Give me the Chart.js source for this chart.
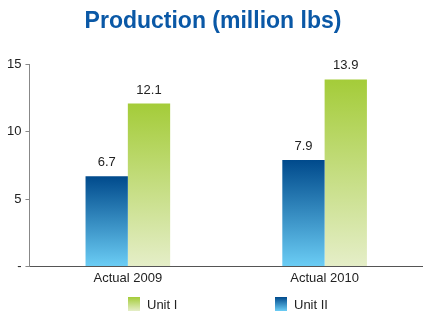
<!DOCTYPE html>
<html>
<head>
<meta charset="utf-8">
<script src="https://cdn.jsdelivr.net/npm/chart.js@4"></script>
<style>
  html, body { margin: 0; padding: 0; background: #fff; }
  #wrap { width: 423px; height: 314px; }
</style>
</head>
<body>
<div id="wrap"><canvas id="prodChart" width="423" height="314"></canvas></div>
<script>
const categories = ['Actual 2009', 'Actual 2010'];
const unitOne = [12.1, 13.9];
const unitTwo = [6.7, 7.9];
const yTicks = [0, 5, 10, 15];

const FONT = "'Liberation Sans', Arial, sans-serif";

// colours for the gradient fills, top then bottom
const blueStops = ['#004a8c', '#6bcdf5'];
const greenStops = ['#a4cc39', '#e5eec8'];

function barFill(stops) {
    return function (context) {
        const chart = context.chart;
        if (!chart.chartArea || context.parsed === undefined) return stops[0];
        const y = chart.scales.y;
        const top = y.getPixelForValue(context.parsed.y);
        const bottom = y.getPixelForValue(0);
        const g = chart.ctx.createLinearGradient(0, top, 0, bottom);
        g.addColorStop(0, stops[0]);
        g.addColorStop(1, stops[1]);
        return g;
    };
}

// value labels on top of the bars
const valueLabels = {
    id: 'valueLabels',
    afterDatasetsDraw(chart) {
        const ctx = chart.ctx;
        ctx.save();
        ctx.font = '13px ' + FONT;
        ctx.fillStyle = '#222';
        ctx.textAlign = 'center';
        ctx.textBaseline = 'bottom';
        chart.data.datasets.forEach((ds, i) => {
            chart.getDatasetMeta(i).data.forEach((bar, j) => {
                ctx.fillText(ds.data[j].toFixed(1), bar.x, bar.y - 7);
            });
        });
        ctx.restore();
    }
};

// legend at the bottom, wide gaps like the original
const wideLegend = {
    id: 'wideLegend',
    afterDraw(chart) {
        const ctx = chart.ctx;
        const items = [
            { text: 'Unit I', stops: greenStops, x: 128 },
            { text: 'Unit II', stops: blueStops, x: 275 }
        ];
        const top = 297, h = 14, w = 12;
        ctx.save();
        ctx.font = '13px ' + FONT;
        ctx.fillStyle = '#222';
        ctx.textBaseline = 'middle';
        items.forEach(it => {
            const g = ctx.createLinearGradient(0, top, 0, top + h);
            g.addColorStop(0, it.stops[0]);
            g.addColorStop(1, it.stops[1]);
            ctx.fillStyle = g;
            ctx.fillRect(it.x, top, w, h);
            ctx.fillStyle = '#222';
            ctx.fillText(it.text, it.x + w + 7, top + h / 2 + 1);
        });
        ctx.restore();
    }
};

const ctx = document.getElementById('prodChart').getContext('2d');
const prodChart = new Chart(ctx, {
    type: 'bar',
    data: {
        labels: categories,
        datasets: [{
            label: 'Unit II',
            data: unitTwo,
            backgroundColor: barFill(blueStops)
        }, {
            label: 'Unit I',
            data: unitOne,
            backgroundColor: barFill(greenStops)
        }]
    },
    options: {
        responsive: false,
        animation: false,
        categoryPercentage: 0.43,
        barPercentage: 1,
        layout: { padding: { top: 4, right: 0, bottom: 24, left: 3 } },
        plugins: {
            title: {
                display: true,
                text: 'Production (million lbs)',
                color: '#0a58a6',
                font: { family: FONT, size: 23, weight: 'bold' },
                padding: { top: 4, bottom: 29 }
            },
            legend: { display: false },
            tooltip: { enabled: false }
        },
        scales: {
            x: {
                grid: { display: false, drawTicks: false },
                border: { color: '#555', width: 1 },
                ticks: { color: '#222', font: { family: FONT, size: 13 }, padding: 4 }
            },
            y: {
                min: 0,
                max: 15,
                afterBuildTicks(axis) { axis.ticks = yTicks.map(v => ({ value: v })); },
                grid: { drawOnChartArea: false, tickLength: 4, color: '#888' },
                border: { color: '#888', width: 1 },
                ticks: {
                    color: '#222',
                    font: { family: FONT, size: 13 },
                    padding: 4,
                    callback: v => v === 0 ? '-' : v
                }
            }
        }
    },
    plugins: [valueLabels, wideLegend]
});
</script>
</body>
</html>
